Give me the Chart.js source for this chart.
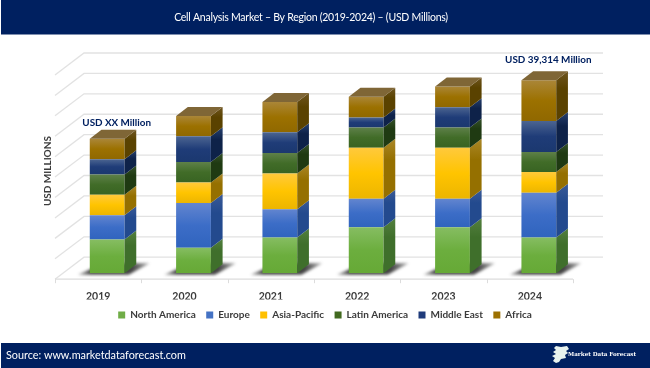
<!DOCTYPE html>
<html><head><meta charset="utf-8">
<style>html,body{margin:0;padding:0;background:#fff}#w{width:650px;height:368px;position:relative}canvas{display:block}</style>
<script src="https://cdn.jsdelivr.net/npm/chart.js@4"></script></head>
<body><div id="w"><canvas id="c" width="650" height="368"></canvas></div>
<script>
const years = ['2019','2020','2021','2022','2023','2024'];
const northAmerica = [6870,5160,7280,9380,9380,7280];
const europe       = [4960,9120,5770,5770,5770,9120];
const asiaPacific  = [4140,4220,7280,10400,10400,4220];
const latinAmerica = [4140,4140,4140,4140,4140,4080];
const middleEast   = [3120,5240,4220,2040,4140,6320];
const africa       = [4140,4140,6180,4220,4220,8294];
const axisMax = 41600, axisStep = 4160;
const titleText = 'Cell Analysis Market \u2013 By Region (2019-2024) \u2013 (USD Millions)';
const sourceText = 'Source: www.marketdataforecast.com';
const firstNote = 'USD XX Million', lastNote = 'USD 39,314 Million';
const NAVY = '#002060';
const FONT = 'Lato, Carlito, sans-serif';
const DX = 11.7, DY = -9;           // bar depth on screen

const looks = [
 {l:'North America',v:northAmerica,c:'#70AD47',g:['#86bd62','#6cae3e','#66a936'],s:['#537f3f','#3f6f2b']},
 {l:'Europe',v:europe,c:'#4472C4',g:['#6285cf','#3c6dc7','#3064be'],s:['#3a5a97','#234a8e']},
 {l:'Asia-Pacific',v:asiaPacific,c:'#FFC000',g:['#ffc93c','#ffc400','#ecb500'],s:['#aa8728','#957000']},
 {l:'Latin America',v:latinAmerica,c:'#41691F',g:['#5e8049','#416c28','#386322'],s:['#35512a','#1f3a12']},
 {l:'Middle East',v:middleEast,c:'#1F3B7B',g:['#4c6591','#1f3c78','#1b386f'],s:['#26406f','#0e2249']},
 {l:'Africa',v:africa,c:'#9C7000',g:['#aa8638','#9c7100','#906800'],s:['#6e5520','#5a4200']}
];

function sumBelow(ds, i){ let s=0; for(let k=0;k<ds;k++) s+=looks[k].v[i]; return s; }

const frame = {
 id:'frame',
 afterLayout(chart){
  if(chart.legend){ chart.legend.left+=13; chart.legend.right+=13; }
 },
 beforeDraw(chart){
  const {ctx,scales:{x,y},chartArea:a} = chart;
  ctx.save();
  ctx.fillStyle='#fff'; ctx.fillRect(0,0,650,368);
  ctx.fillStyle=NAVY;
  ctx.fillRect(1,0,649,34.5);
  ctx.fillRect(1,343,649,25);
  ctx.strokeStyle='#e2e2e2'; ctx.lineWidth=1.3;
  y.ticks.forEach(t=>{
    const py=y.getPixelForValue(t.value);
    ctx.beginPath();
    ctx.moveTo(a.left-9,py+6); ctx.lineTo(a.left+20,py-16); ctx.lineTo(a.right+21,py-16);
    ctx.stroke();
  });
  ctx.strokeStyle='#dcdcdc';
  ctx.beginPath(); ctx.moveTo(a.left-9,a.bottom+6); ctx.lineTo(a.right-9,a.bottom+6); ctx.stroke();
  ctx.lineWidth=1;
  const band=(a.right-a.left)/years.length;
  for(let k=0;k<=years.length;k++){
    const px=Math.round(a.left-9+k*band)+.5;
    ctx.beginPath(); ctx.moveTo(px,a.bottom+6); ctx.lineTo(px,a.bottom+10); ctx.stroke();
  }
  const meta=chart.getDatasetMeta(0);
  meta.data.forEach(b=>{
    const l=b.x-b.width/2, r=b.x+b.width/2, by=y.getPixelForValue(0);
    const g=ctx.createLinearGradient(l-14,0,r+26,0);
    g.addColorStop(0,'rgba(40,40,40,.25)');g.addColorStop(.2,'rgba(35,35,35,.85)');
    g.addColorStop(.75,'rgba(35,35,35,.85)');g.addColorStop(1,'rgba(40,40,40,.35)');
    ctx.save(); ctx.filter='blur(1.6px)'; ctx.fillStyle=g;
    ctx.beginPath();
    ctx.moveTo(l-12,by+1.5); ctx.lineTo(r+4,by+1.5); ctx.lineTo(r+25,by-10);
    ctx.lineTo(l+14,by-10); ctx.closePath(); ctx.fill();
    ctx.restore();
  });
  ctx.restore();
 },
 afterDatasetsDraw(chart){
  const {ctx} = chart;
  ctx.save();
  chart.data.datasets.forEach((d,di)=>{
    chart.getDatasetMeta(di).data.forEach((b)=>{
      const r=b.x+b.width/2, top=b.y, bot=b.base;
      const g=ctx.createLinearGradient(0,top+DY,0,bot);
      g.addColorStop(0,looks[di].s[0]); g.addColorStop(.35,looks[di].s[1]); g.addColorStop(1,looks[di].s[1]);
      ctx.fillStyle=g;
      ctx.beginPath();
      ctx.moveTo(r,bot); ctx.lineTo(r+DX,bot+DY); ctx.lineTo(r+DX,top+DY); ctx.lineTo(r,top);
      ctx.closePath(); ctx.fill();
    });
  });
  const last=chart.getDatasetMeta(chart.data.datasets.length-1);
  last.data.forEach(b=>{
    const l=b.x-b.width/2, r=b.x+b.width/2;
    ctx.fillStyle='#7f6636';
    ctx.beginPath();
    ctx.moveTo(l,b.y); ctx.lineTo(l+DX,b.y+DY); ctx.lineTo(r+DX,b.y+DY); ctx.lineTo(r,b.y);
    ctx.closePath(); ctx.fill();
  });
  ctx.fillStyle=NAVY; ctx.font='bold 9.9px '+FONT; ctx.textBaseline='middle'; ctx.textAlign='center';
  const b0=last.data[0], bN=last.data[last.data.length-1];
  ctx.fillText(firstNote,b0.x+9.5,b0.y-16.5);
  ctx.fillText(lastNote,bN.x+9.5,bN.y-20);
  ctx.fillStyle='#fff'; ctx.font='10.5px '+FONT; ctx.letterSpacing='-0.25px';
  ctx.fillText(titleText,311,17.5);
  ctx.letterSpacing='0px';
  ctx.font='10.8px '+FONT; ctx.textAlign='left';
  ctx.fillText(sourceText,6,356);
  ctx.fillStyle='#e8f2ee';
  ctx.beginPath();
  [[556,346],[561,347],[567,346],[569,349],[566,351],[568,353],[565,355],[566,358],[561,359],[559,362],[556,363],[553,361],[555,358],[552,356],[556,354],[553,352],[556,350],[554,348]]
    .forEach((p,k)=>k?ctx.lineTo(p[0],p[1]):ctx.moveTo(p[0],p[1]));
  ctx.closePath(); ctx.fill();
  ctx.fillStyle='#fff'; ctx.font='bold 5.6px "DejaVu Serif", serif';
  ctx.fillText('Market Data Forecast',568,355);
  ctx.restore();
 }
};

new Chart(document.getElementById('c'),{
 type:'bar',
 plugins:[frame],
 data:{labels:years,datasets:looks.map((s,di)=>({
   label:s.l,data:s.v,borderWidth:0,barPercentage:.403,categoryPercentage:1,
   backgroundColor(c){
     const ch=c.chart;
     if(!ch.chartArea||!ch.scales.y||c.dataIndex===undefined) return s.c;
     const lo=sumBelow(di,c.dataIndex), hi=lo+s.v[c.dataIndex], y=ch.scales.y;
     const g=ch.ctx.createLinearGradient(0,y.getPixelForValue(hi),0,y.getPixelForValue(lo));
     g.addColorStop(0,s.g[0]); g.addColorStop(.5,s.g[1]); g.addColorStop(1,s.g[2]);
     return g;
   }
 }))},
 options:{
  responsive:false,animation:false,
  layout:{padding:{left:42,right:68,top:69,bottom:38}},
  scales:{
   x:{stacked:true,grid:{display:false,drawTicks:false},border:{display:false},
      ticks:{labelOffset:-9,padding:17,maxRotation:0,color:'#3b3b3b',font:{family:FONT,size:10.5,weight:'bold'}},
      afterFit(s){s.height=26.4;}},
   y:{stacked:true,min:0,max:axisMax,
      grid:{display:false,drawTicks:false},border:{display:false},
      ticks:{display:false,stepSize:axisStep},
      title:{display:true,text:'USD MILLIONS',color:'#3b3b3b',font:{family:FONT,size:10,weight:'bold'},padding:{top:0,bottom:0}},
      afterFit(s){s.width=22;}}
  },
  plugins:{
   tooltip:{enabled:false},
   title:{display:false},
   legend:{display:true,position:'bottom',align:'center',
     labels:{boxWidth:7,boxHeight:7,padding:10.4,color:'#3b3b3b',font:{family:FONT,size:10,weight:'bold'},
       generateLabels(ch){return looks.map((s,i)=>({text:s.l,fillStyle:s.c,strokeStyle:s.c,lineWidth:0,datasetIndex:i,fontColor:'#3b3b3b'}));}}}
  }
 }
});
</script></body></html>
